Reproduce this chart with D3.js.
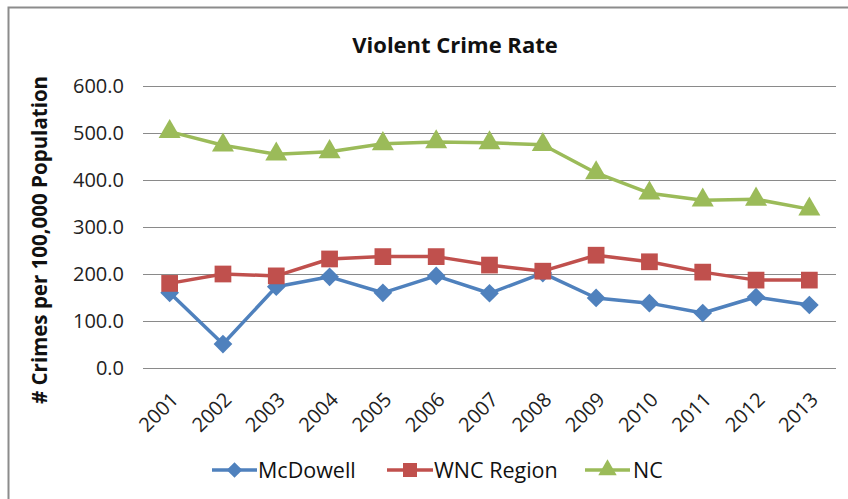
<!DOCTYPE html>
<html><head><meta charset="utf-8">
<script src="https://cdn.jsdelivr.net/npm/d3@7"></script>
<style>body{margin:0;background:#fff}svg{display:block}</style>
</head><body><svg id="c" width="848" height="499"></svg>
<script>
const years = ["2001","2002","2003","2004","2005","2006","2007","2008","2009","2010","2011","2012","2013"];
const mcdowell = [160, 51, 173, 194, 160, 196, 159, 202, 149, 138, 117, 151, 134];
const wnc = [180, 200, 196, 232, 237, 237, 219, 206, 240, 226, 204, 187, 187];
const nc = [503, 474, 455, 460, 477, 481, 479, 475, 415, 372, 357, 359, 338];
const yTicks = [0, 100, 200, 300, 400, 500, 600];
const seriesNames = ["McDowell", "WNC Region", "NC"];
const colors = ["#4f81bd", "#c0504d", "#9bbb59"];

const diamond = { draw(ctx, size) { const r = Math.sqrt(size/2); ctx.moveTo(0,-r); ctx.lineTo(r,0); ctx.lineTo(0,r); ctx.lineTo(-r,0); ctx.closePath(); } };
const shapes = [diamond, d3.symbolSquare, d3.symbolTriangle];

const svg = d3.select("#c");
const font = "'Open Sans', sans-serif";
svg.append("path").attr("d","M8.5,499 V7.5 H848").attr("fill","none").attr("stroke","#8c8c8c").attr("stroke-width",2);

const x = d3.scaleBand().domain(years).range([143, 836]);
const y = d3.scaleLinear().domain([0, 600]).range([368, 86]);

svg.append("g").selectAll("line").data(yTicks).join("line")
  .attr("x1",143).attr("x2",836).attr("y1",d=>Math.round(y(d))+0.5).attr("y2",d=>Math.round(y(d))+0.5)
  .attr("stroke","#8a8a8a").attr("stroke-width",1);

const ya = svg.append("g").attr("transform","translate(124,0)")
  .call(d3.axisLeft(y).tickValues(yTicks).tickFormat(d3.format(".1f")).tickSize(0).tickPadding(0));
ya.select(".domain").remove();
ya.selectAll("text").attr("font-family",font).attr("font-size",20).attr("fill","#222");

const xa = svg.append("g").attr("transform","translate(0,376)")
  .call(d3.axisBottom(x).tickSize(0).tickPadding(0));
xa.select(".domain").remove();
xa.selectAll("text").attr("font-family",font).attr("font-size",20).attr("fill","#222")
  .attr("text-anchor","end").attr("dy","0.35em").attr("dx","0")
  .attr("transform","translate(5,20) rotate(-45)");

svg.append("text").attr("x",455).attr("y",53).attr("text-anchor","middle")
  .attr("font-family",font).attr("font-weight","bold").attr("font-size",22).attr("fill","#111")
  .text("Violent Crime Rate");

svg.append("text").attr("transform","translate(47,240) rotate(-90)").attr("text-anchor","middle")
  .attr("font-family",font).attr("font-weight","bold").attr("font-size",20.5).attr("fill","#111")
  .text("# Crimes per 100,000 Population");

const data = [mcdowell, wnc, nc];
const cx = d => x(d) + x.bandwidth()/2;
const line = d3.line().x((d,i)=>cx(years[i])).y(d=>y(d));
const sizes = [175, 280, 210];

data.forEach((vals, s) => {
  const g = svg.append("g");
  g.append("path").datum(vals).attr("d", line).attr("fill","none")
    .attr("stroke", colors[s]).attr("stroke-width", 3.5).attr("stroke-linejoin","round");
  g.selectAll("path.m").data(vals).join("path").attr("class","m")
    .attr("transform",(d,i)=>`translate(${cx(years[i])},${y(d)})`)
    .attr("d", d3.symbol().type(shapes[s]).size(sizes[s]))
    .attr("fill", colors[s]);
});

const legend = [{x1:212,x2:257,tx:258},{x1:387,x2:433,tx:434},{x1:585,x2:630,tx:633}];
legend.forEach((L,s)=>{
  const g = svg.append("g");
  const ly = 470;
  g.append("line").attr("x1",L.x1).attr("x2",L.x2).attr("y1",ly).attr("y2",ly)
    .attr("stroke",colors[s]).attr("stroke-width",3.5);
  g.append("path").attr("transform",`translate(${(L.x1+L.x2)/2},${ly})`)
    .attr("d", d3.symbol().type(shapes[s]).size(sizes[s]*0.7)).attr("fill",colors[s]);
  g.append("text").attr("x",L.tx).attr("y",ly).attr("dy","0.35em")
    .attr("font-family",font).attr("font-size",21.5).attr("fill","#111").text(seriesNames[s]);
});
</script></body></html>
